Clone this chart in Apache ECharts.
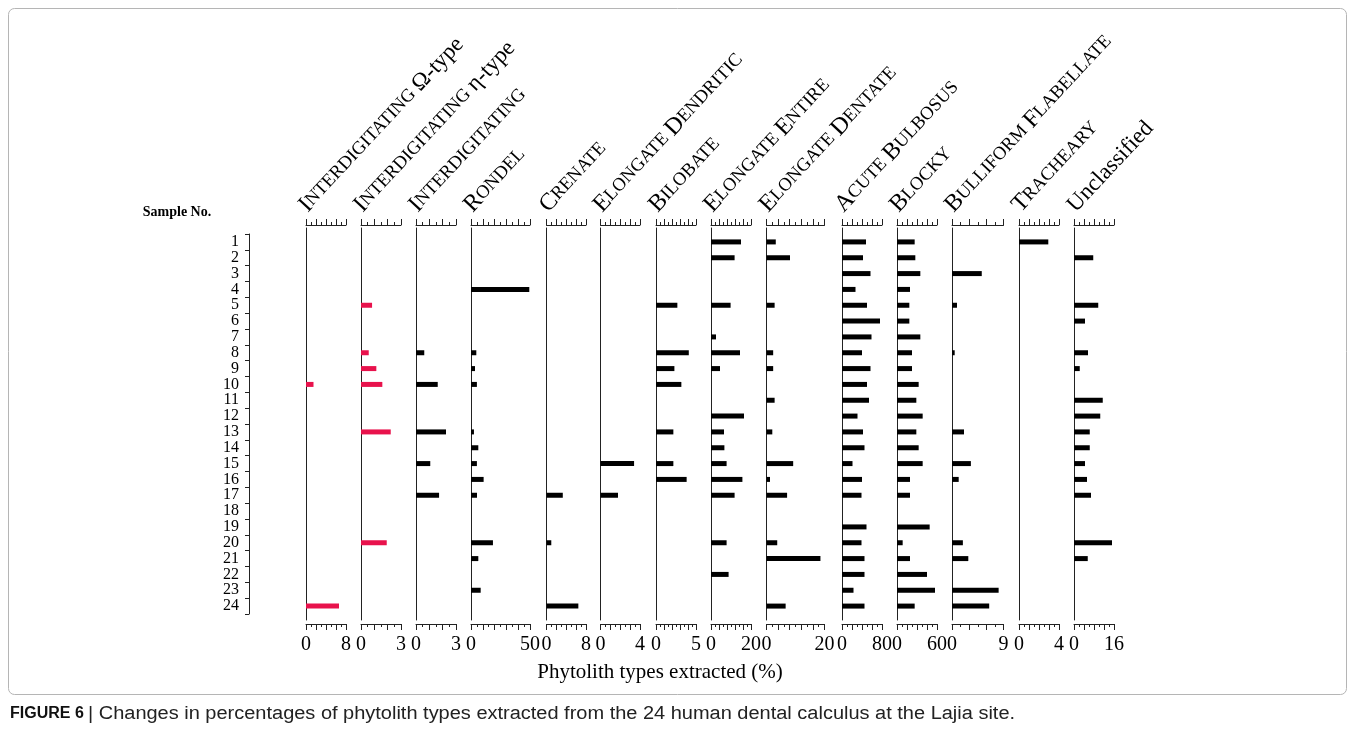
<!DOCTYPE html>
<html>
<head>
<meta charset="utf-8">
<script src="https://cdn.jsdelivr.net/npm/echarts@6/dist/echarts.min.js"></script>
<style>html,body{margin:0;padding:0;background:#fff;}#chart{width:1355px;height:750px;}</style>
</head>
<body>
<div id="chart"></div>
<script>
// ---------- data ----------
const samples = ['1','2','3','4','5','6','7','8','9','10','11','12','13','14','15','16','17','18','19','20','21','22','23','24'];
const panelTitles = ['INTERDIGITATING Ω-type','INTERDIGITATING η-type','INTERDIGITATING','RONDEL','CRENATE','ELONGATE DENDRITIC','BILOBATE','ELONGATE ENTIRE','ELONGATE DENTATE','ACUTE BULBOSUS','BLOCKY','BULLIFORM FLABELLATE','TRACHEARY','Unclassified'];
const axisMax  = [8, 3, 3, 50, 8, 4, 5, 20, 20, 80, 60, 9, 4, 16];
const tickStep = [2, 1, 1, 10, 2, 1, 1, 4, 4, 20, 15, 3, 1, 4];

const omegaType        = [0,0,0,0,0,0,0,0,0,1.5,0,0,0,0,0,0,0,0,0,0,0,0,0,6.6];
const etaType          = [0,0,0,0,0.83,0,0,0.58,1.15,1.6,0,0,2.23,0,0,0,0,0,0,1.93,0,0,0,0];
const interdigitating  = [0,0,0,0,0,0,0,0.62,0,1.63,0,0,2.25,0,1.07,0,1.73,0,0,0,0,0,0,0];
const rondel           = [0,0,0,49.4,0,0,0,4.5,3.4,5,0,0,2.5,6.2,5,10.7,5.1,0,0,18.6,6.2,0,8.2,0];
const crenate          = [0,0,0,0,0,0,0,0,0,0,0,0,0,0,0,0,3.3,0,0,0.97,0,0,0,6.45];
const elongateDendritic= [0,0,0,0,0,0,0,0,0,0,0,0,0,0,3.4,0,1.77,0,0,0,0,0,0,0];
const bilobate         = [0,0,0,0,2.67,0,0,4.1,2.3,3.17,0,0,2.17,0,2.17,3.83,0,0,0,0,0,0,0,0];
const elongateEntire   = [15,11.8,0,0,9.8,0,2.5,14.5,4.5,0,0,16.5,6.5,6.7,7.8,15.7,11.8,0,0,7.8,0,8.8,0,0];
const elongateDentate  = [3.2,8.1,0,0,2.8,0,0,2.3,2.3,0,2.8,0,2.0,0,9.2,1.2,7.1,0,0,3.7,18.6,0,0,6.6];
const acuteBulbosus    = [48,42,57,27,50,76,59,40,57,50,54,31,42,45,21,40,39,0,49,39,45,45,23,45];
const blocky           = [26.5,27.5,35,19.5,18.5,18.5,35,22.5,22.5,32.5,29,38.5,29,32.5,38.5,19.5,19.5,0,49,8.5,19.5,45,57,26.5];
const bulliform        = [0,0,5.2,0,0.87,0,0,0.47,0,0,0,0,2.1,0,3.3,1.17,0,0,0,1.9,2.85,0,8.15,6.5];
const tracheary        = [2.93,0,0,0,0,0,0,0,0,0,0,0,0,0,0,0,0,0,0,0,0,0,0,0];
const unclassified     = [0,7.7,0,0,9.7,4.4,0,5.6,2.3,0,11.5,10.5,6.3,6.3,4.4,5.2,6.8,0,0,15.2,5.5,0,0,0];

const panelValues = [omegaType, etaType, interdigitating, rondel, crenate, elongateDendritic, bilobate,
  elongateEntire, elongateDentate, acuteBulbosus, blocky, bulliform, tracheary, unclassified];

// ---------- layout / style ----------
const panelLeft  = [306, 361, 416, 471, 546.5, 600.5, 656, 711, 766.5, 842, 897, 952, 1019, 1074];
const panelWidth = [40, 40, 40, 59, 39.5, 39.5, 40, 40, 58, 40, 40, 51.5, 40, 40];
const barColor = ['#e8124c','#e8124c','#000','#000','#000','#000','#000','#000','#000','#000','#000','#000','#000','#000'];
const SERIF = "'Liberation Serif', 'Times New Roman', serif";
const SANS = "'Liberation Sans', Arial, sans-serif";
const lineCol = '#222';
const TITLE_ANGLE = 47 * Math.PI / 180;

const grid = [], xAxis = [], yAxis = [], series = [], graphic = [];

function richTitle(t) {
  return t.split(' ').map(w => {
    if (/^[A-Z]+$/.test(w)) return '{b|' + w[0] + '}{s|' + w.slice(1) + '}';
    return '{n|' + w + '}';
  }).join('{s| }');
}

panelTitles.forEach((title, i) => {
  const L = panelLeft[i], W = panelWidth[i], M = axisMax[i];
  // bar grid
  const gBar = grid.length;
  grid.push({left: L, top: 234, width: W, height: 380});
  const xb = xAxis.length;
  xAxis.push({gridIndex: gBar, type: 'value', min: 0, max: M, show: false});
  const yb = yAxis.length;
  yAxis.push({gridIndex: gBar, type: 'category', data: samples, inverse: true, show: false});
  series.push({type: 'bar', xAxisIndex: xb, yAxisIndex: yb, data: panelValues[i], barWidth: 5,
    itemStyle: {color: barColor[i]}, silent: true});
  // frame grid
  const gF = grid.length;
  grid.push({left: L, top: 228, width: W, height: 392});
  const tickCommon = {
    gridIndex: gF, type: 'value', min: 0, max: M, interval: tickStep[i],
    axisLine: {show: true, onZero: false, lineStyle: {color: lineCol, width: 1}},
    axisTick: {show: true, inside: false, length: 6, lineStyle: {color: lineCol}},
    minorTick: {show: true, splitNumber: 2, length: 3, lineStyle: {color: lineCol}},
    splitLine: {show: false}, minorSplitLine: {show: false}
  };
  xAxis.push(Object.assign({}, tickCommon, {position: 'top', offset: 3, axisLabel: {show: false}}));
  xAxis.push(Object.assign({}, tickCommon, {position: 'bottom', offset: 4,
    axisLabel: {show: true, margin: 11, fontFamily: SERIF, fontSize: 20, color: '#000',
      showMinLabel: true, showMaxLabel: true,
      formatter: v => (v === 0 || v === M) ? String(v) : ''}}));
  yAxis.push({gridIndex: gF, type: 'value', min: 0, max: 1,
    axisLine: {show: true, onZero: false, lineStyle: {color: lineCol, width: 1}},
    axisTick: {show: false}, axisLabel: {show: false}, splitLine: {show: false}});
  // rotated header
  graphic.push({type: 'text', x: L + 6, y: 217, rotation: TITLE_ANGLE, silent: true,
    style: {text: richTitle(title), fill: '#000', align: 'left', verticalAlign: 'bottom',
      rich: {
        b: {fontFamily: SERIF, fontSize: 24, lineHeight: 24, fill: '#000'},
        s: {fontFamily: SERIF, fontSize: 18.5, lineHeight: 24, fill: '#000'},
        n: {fontFamily: SERIF, fontSize: 23, lineHeight: 24, fill: '#000'}
      }}});
});

// sample-number axis
const gS = grid.length;
grid.push({left: 249, top: 234, width: 10, height: 380});
xAxis.push({gridIndex: gS, type: 'value', show: false, min: 0, max: 1});
yAxis.push({gridIndex: gS, type: 'category', data: samples, inverse: true,
  axisLine: {show: true, lineStyle: {color: lineCol}},
  axisTick: {show: true, inside: false, length: 4, interval: 0, lineStyle: {color: lineCol}},
  axisLabel: {interval: 0, fontFamily: SERIF, fontSize: 16, color: '#000', margin: 10},
  splitLine: {show: false}});

graphic.push({type: 'text', x: 177, y: 212, silent: true,
  style: {text: 'Sample No.', fill: '#000', font: "bold 14px " + SERIF, align: 'center', verticalAlign: 'middle'}});
graphic.push({type: 'text', x: 660, y: 672, silent: true,
  style: {text: 'Phytolith types extracted (%)', fill: '#000', font: "21px " + SERIF, align: 'center', verticalAlign: 'middle'}});
graphic.push({type: 'rect', silent: true, shape: {x: 8.5, y: 8.5, width: 1338, height: 686, r: 6},
  style: {fill: 'none', stroke: '#b5b5b5', lineWidth: 1}});
graphic.push({type: 'text', x: 10, y: 714, silent: true,
  style: {text: 'FIGURE 6', fill: '#111', font: "bold 16px " + SANS, align: 'left', verticalAlign: 'middle'}});
graphic.push({type: 'text', x: 88, y: 714, scaleX: 1.11, silent: true,
  style: {text: '| Changes in percentages of phytolith types extracted from the 24 human dental calculus at the Lajia site.',
    fill: '#222', font: "18px " + SANS, align: 'left', verticalAlign: 'middle'}});

const chart = echarts.init(document.getElementById('chart'), null, {renderer: 'canvas'});
chart.setOption({
  animation: false,
  backgroundColor: '#fff',
  grid, xAxis, yAxis, series, graphic
});
</script>
</body>
</html>
